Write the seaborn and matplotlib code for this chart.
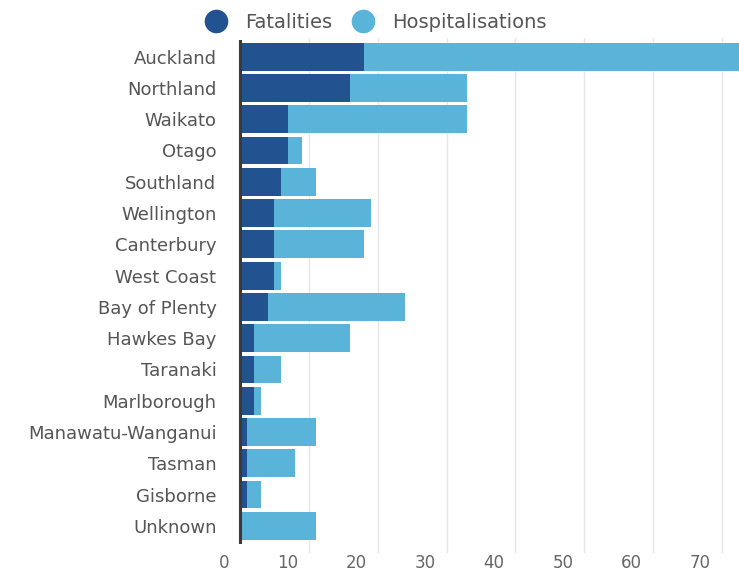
import pandas as pd
import numpy as np
import matplotlib.pyplot as plt
import matplotlib.transforms as mtransforms
from matplotlib.lines import Line2D
import seaborn as sb

regions = ["Auckland", "Northland", "Waikato", "Otago", "Southland", "Wellington",
           "Canterbury", "West Coast", "Bay of Plenty", "Hawkes Bay", "Taranaki",
           "Marlborough", "Manawatu-Wanganui", "Tasman", "Gisborne", "Unknown"]
fatalities = [18, 16, 7, 7, 6, 5, 5, 5, 4, 2, 2, 2, 1, 1, 1, 0]
hospitalisations = [58, 17, 26, 2, 5, 14, 13, 1, 20, 14, 4, 1, 10, 7, 2, 11]
xticks = [0, 10, 20, 30, 40, 50, 60, 70]

dark = "#22528f"
light = "#5ab3d8"

df = pd.DataFrame({"region": regions, "Fatalities": fatalities,
                   "Hospitalisations": hospitalisations})
df["total"] = df["Fatalities"] + df["Hospitalisations"]

sb.set_style("white")
plt.rcParams["font.family"] = ["DejaVu Sans"]

fig = plt.figure(figsize=(7.39, 5.72), dpi=100)
ax = fig.add_axes([240 / 739, 1 - 541.5 / 572, 1 - 240 / 739, (541.5 - 41) / 572])

# stacked: total bar first, fatalities on top
sb.barplot(data=df, x="total", y="region", color=light, width=0.89,
           saturation=1, edgecolor="none", ax=ax, orient="h")
sb.barplot(data=df, x="Fatalities", y="region", color=dark, width=0.89,
           saturation=1, edgecolor="none", ax=ax, orient="h")

ax.set_xlim(0, 72.47)
ax.set_ylim(15.5, -0.5)
ax.set_xlabel("")
ax.set_ylabel("")
ax.set_xticks(xticks)
ax.set_xticklabels([str(t) for t in xticks])
for t in xticks[1:]:
    ax.axvline(t, color="#e6e6e6", lw=1, zorder=0, ymin=-0.02, ymax=1.005, clip_on=False)
ax.set_axisbelow(True)

for s in ["top", "right", "bottom"]:
    ax.spines[s].set_visible(False)
ax.spines["left"].set_color("#3a3a3a")
ax.spines["left"].set_linewidth(2.2)
ax.spines["left"].set_zorder(5)

ax.tick_params(axis="both", length=0)
ax.tick_params(axis="y", pad=17, labelsize=13, labelcolor="#555555")
ax.tick_params(axis="x", pad=9, labelsize=12, labelcolor="#666666")

offset = mtransforms.ScaledTranslation(-11 / 100, 0, fig.dpi_scale_trans)
for lab in ax.get_xticklabels():
    lab.set_horizontalalignment("right")
    lab.set_transform(lab.get_transform() + offset)

handles = [Line2D([], [], marker="o", linestyle="", markersize=17,
                  markerfacecolor=dark, markeredgecolor="none"),
           Line2D([], [], marker="o", linestyle="", markersize=17,
                  markerfacecolor=light, markeredgecolor="none")]
leg = fig.legend(handles, ["Fatalities", "Hospitalisations"], ncol=2,
                 loc="center left", bbox_to_anchor=(204 / 739, 1 - 22 / 572),
                 frameon=False, fontsize=14, handlelength=1.2, handletextpad=0.9,
                 columnspacing=1.0, borderpad=0, borderaxespad=0)
for t in leg.get_texts():
    t.set_color("#555555")

fig.savefig("out.png", dpi=100)
